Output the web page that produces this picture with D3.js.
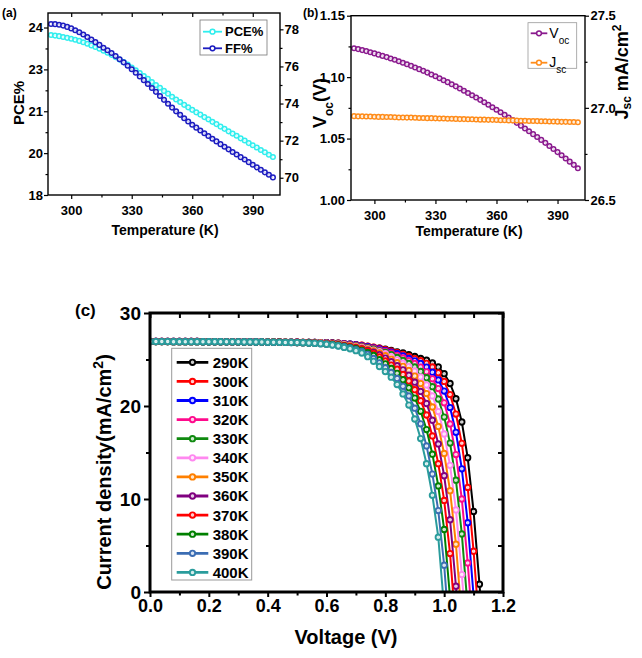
<!DOCTYPE html>
<html><head><meta charset="utf-8">
<script src="https://cdn.jsdelivr.net/npm/d3@7"></script>
<style>
body{margin:0;background:#fff;}
svg text{font-family:"Liberation Sans",Arial,sans-serif;}
</style></head><body>
<svg id="chart" width="642" height="658"></svg>
<script>
// ---------- DATA ----------
const temps = [290,292,294,296,298,300,302,304,306,308,310,312,314,316,318,320,322,324,326,328,330,332,334,336,338,340,342,344,346,348,350,352,354,356,358,360,362,364,366,368,370,372,374,376,378,380,382,384,386,388,390,392,394,396,398,400];
const pce = [23.73,23.71,23.69,23.66,23.63,23.60,23.56,23.52,23.47,23.42,23.36,23.30,23.24,23.17,23.10,23.02,22.94,22.85,22.76,22.67,22.57,22.47,22.37,22.26,22.16,22.05,21.94,21.84,21.73,21.63,21.52,21.42,21.33,21.23,21.14,21.05,20.96,20.88,20.79,20.71,20.62,20.54,20.45,20.37,20.28,20.20,20.12,20.03,19.95,19.86,19.78,19.70,19.61,19.53,19.44,19.36];
const ff = [78.29,78.28,78.25,78.20,78.13,78.05,77.95,77.84,77.72,77.59,77.45,77.31,77.16,77.01,76.87,76.72,76.56,76.39,76.22,76.04,75.85,75.66,75.46,75.26,75.05,74.84,74.63,74.41,74.20,73.99,73.78,73.58,73.39,73.21,73.03,72.86,72.70,72.55,72.40,72.25,72.10,71.96,71.81,71.67,71.53,71.39,71.25,71.11,70.98,70.84,70.70,70.56,70.43,70.29,70.16,70.02];
const voc = [1.1235,1.1228,1.1220,1.1212,1.1203,1.1193,1.1183,1.1173,1.1163,1.1152,1.1141,1.1129,1.1117,1.1105,1.1092,1.1079,1.1065,1.1051,1.1037,1.1022,1.1007,1.0991,1.0975,1.0959,1.0942,1.0925,1.0907,1.0889,1.0871,1.0853,1.0834,1.0815,1.0795,1.0775,1.0755,1.0735,1.0714,1.0693,1.0672,1.0650,1.0628,1.0605,1.0582,1.0559,1.0536,1.0513,1.0489,1.0465,1.0440,1.0415,1.0390,1.0364,1.0338,1.0312,1.0286,1.0259];
const jsc = [26.955,26.954,26.954,26.953,26.953,26.952,26.951,26.951,26.950,26.950,26.949,26.948,26.948,26.947,26.947,26.946,26.945,26.945,26.944,26.944,26.943,26.942,26.942,26.941,26.941,26.940,26.939,26.939,26.938,26.938,26.937,26.936,26.936,26.935,26.935,26.934,26.933,26.933,26.932,26.932,26.931,26.930,26.930,26.929,26.929,26.928,26.927,26.927,26.926,26.926,26.925,26.924,26.924,26.923,26.923,26.922];

const tempTicks = [300,330,360,390];
const tempMinorTicks = [315,345,375];
const pceTicks = [18,19.5,21,22.5,24];
const pceTickLabels = ["18","20","21","23","24"];
const pceMinorTicks = [18.75,20.25,21.75,23.25];
const ffTicks = [70,72,74,76,78];
const ffMinorTicks = [71,73,75,77];
const vocTicks = [1.00,1.05,1.10,1.15];
const vocMinorTicks = [1.025,1.075,1.125];
const jscTicks = [26.5,27.0,27.5];
const jscMinorTicks = [26.75,27.25];

const voltage = [0,0.02,0.04,0.06,0.08,0.10,0.12,0.14,0.16,0.18,0.20,0.22,0.24,0.26,0.28,0.30,0.32,0.34,0.36,0.38,0.40,0.42,0.44,0.46,0.48,0.50,0.52,0.54,0.56,0.58,0.60,0.62,0.64,0.66,0.68,0.70,0.72,0.74,0.76,0.78,0.80,0.82,0.84,0.86,0.88,0.90,0.92,0.94,0.96,0.98,1.00,1.02,1.04,1.06,1.08,1.10,1.12,1.14];
const j290 = [26.95,26.95,26.95,26.95,26.94,26.94,26.94,26.94,26.94,26.93,26.93,26.93,26.93,26.93,26.92,26.92,26.92,26.91,26.91,26.90,26.89,26.88,26.88,26.87,26.87,26.86,26.85,26.84,26.83,26.82,26.80,26.78,26.75,26.70,26.65,26.60,26.51,26.41,26.31,26.21,26.11,25.97,25.82,25.71,25.52,25.32,25.12,24.92,24.63,24.20,23.48,22.42,20.78,18.28,14.44,8.66,0.84,-7.6];
const j300 = [26.95,26.95,26.95,26.95,26.94,26.94,26.94,26.94,26.94,26.93,26.93,26.93,26.93,26.93,26.92,26.92,26.92,26.91,26.91,26.90,26.89,26.88,26.88,26.87,26.86,26.86,26.85,26.84,26.83,26.82,26.80,26.78,26.75,26.71,26.66,26.60,26.53,26.43,26.33,26.21,26.05,25.90,25.74,25.56,25.33,25.10,24.87,24.59,24.20,23.57,22.64,21.23,19.13,15.99,11.25,4.38,-4.0];
const j310 = [26.95,26.95,26.95,26.95,26.94,26.94,26.94,26.94,26.94,26.93,26.93,26.93,26.93,26.93,26.92,26.92,26.92,26.91,26.91,26.90,26.89,26.88,26.88,26.87,26.87,26.86,26.85,26.84,26.83,26.82,26.80,26.77,26.73,26.69,26.64,26.57,26.47,26.37,26.26,26.14,25.96,25.79,25.63,25.38,25.12,24.86,24.58,24.19,23.64,22.80,21.61,19.83,17.17,13.24,7.45,-0.4];
const j320 = [26.95,26.95,26.95,26.95,26.94,26.94,26.94,26.94,26.94,26.93,26.93,26.93,26.93,26.93,26.92,26.92,26.92,26.91,26.91,26.90,26.89,26.89,26.88,26.87,26.86,26.86,26.85,26.84,26.82,26.81,26.78,26.74,26.70,26.66,26.60,26.52,26.42,26.31,26.20,26.04,25.87,25.69,25.45,25.16,24.87,24.57,24.19,23.68,22.92,21.87,20.34,18.07,14.78,10.00,3.13,-5.0];
const j330 = [26.95,26.95,26.95,26.95,26.94,26.94,26.94,26.94,26.94,26.93,26.93,26.93,26.93,26.93,26.92,26.92,26.92,26.91,26.91,26.90,26.89,26.88,26.87,26.86,26.86,26.85,26.84,26.83,26.82,26.80,26.76,26.72,26.68,26.63,26.55,26.46,26.36,26.25,26.11,25.93,25.75,25.53,25.22,24.90,24.58,24.20,23.72,23.04,22.08,20.75,18.81,16.01,12.02,6.25,-1.7];
const j340 = [26.95,26.95,26.95,26.95,26.94,26.94,26.94,26.94,26.94,26.93,26.93,26.93,26.93,26.93,26.92,26.92,26.92,26.91,26.91,26.90,26.88,26.88,26.87,26.86,26.86,26.85,26.84,26.82,26.80,26.78,26.74,26.70,26.65,26.59,26.50,26.40,26.30,26.17,26.01,25.84,25.62,25.31,24.97,24.61,24.24,23.77,23.13,22.26,21.08,19.40,16.99,13.62,8.83,1.87,-6.2];
const j350 = [26.93,26.93,26.93,26.93,26.92,26.92,26.92,26.92,26.92,26.91,26.91,26.91,26.91,26.90,26.90,26.90,26.89,26.89,26.88,26.88,26.88,26.87,26.86,26.86,26.85,26.84,26.83,26.81,26.79,26.76,26.72,26.67,26.62,26.54,26.45,26.35,26.23,26.09,25.92,25.70,25.41,25.04,24.66,24.27,23.82,23.22,22.41,21.34,19.89,17.80,14.89,10.89,5.14,-2.9];
const j360 = [26.93,26.93,26.93,26.93,26.92,26.92,26.92,26.92,26.92,26.91,26.91,26.91,26.91,26.90,26.90,26.90,26.89,26.89,26.88,26.88,26.87,26.87,26.86,26.85,26.84,26.83,26.82,26.80,26.77,26.73,26.69,26.64,26.58,26.49,26.39,26.28,26.15,25.98,25.80,25.53,25.15,24.77,24.34,23.89,23.31,22.56,21.57,20.27,18.47,15.92,12.50,7.77,0.63,-7.5];
const j370 = [26.93,26.93,26.93,26.93,26.92,26.92,26.92,26.92,26.92,26.91,26.91,26.91,26.91,26.90,26.90,26.90,26.89,26.89,26.88,26.88,26.87,26.86,26.86,26.85,26.84,26.83,26.81,26.79,26.77,26.74,26.70,26.64,26.58,26.49,26.38,26.25,26.10,25.90,25.64,25.27,24.85,24.40,23.95,23.40,22.69,21.76,20.57,19.03,16.78,13.80,9.85,4.13,-4.1];
const j380 = [26.93,26.93,26.93,26.93,26.92,26.92,26.92,26.92,26.92,26.91,26.91,26.91,26.91,26.90,26.90,26.90,26.89,26.89,26.88,26.88,26.87,26.86,26.86,26.85,26.84,26.83,26.81,26.78,26.75,26.71,26.66,26.62,26.53,26.43,26.31,26.17,25.98,25.73,25.43,24.98,24.53,24.04,23.51,22.82,21.95,20.85,19.43,17.47,14.82,11.41,6.72,-0.6];
const j390 = [26.93,26.93,26.93,26.93,26.92,26.92,26.92,26.92,26.92,26.91,26.91,26.91,26.91,26.90,26.90,26.90,26.89,26.89,26.88,26.88,26.86,26.85,26.85,26.84,26.83,26.82,26.80,26.77,26.74,26.70,26.66,26.58,26.48,26.37,26.24,26.06,25.86,25.56,25.12,24.64,24.12,23.60,22.96,22.12,21.08,19.77,18.08,15.71,12.68,8.76,2.88,-5.4];
const j400 = [26.93,26.93,26.93,26.93,26.92,26.92,26.92,26.92,26.92,26.91,26.91,26.91,26.91,26.90,26.90,26.90,26.89,26.89,26.88,26.88,26.86,26.86,26.85,26.84,26.83,26.82,26.80,26.77,26.74,26.70,26.65,26.55,26.45,26.30,26.15,25.95,25.70,25.30,24.80,24.25,23.70,23.10,22.30,21.30,20.10,18.60,16.50,13.80,10.40,5.90,-1.8];
const jvLabels = ["290K","300K","310K","320K","330K","340K","350K","360K","370K","380K","390K","400K"];
const jvSeries = [j290,j300,j310,j320,j330,j340,j350,j360,j370,j380,j390,j400];
const voltageTicks = [0,0.2,0.4,0.6,0.8,1.0,1.2];
const voltageMinorTicks = [0.1,0.3,0.5,0.7,0.9,1.1];
const currentTicks = [0,10,20,30];
const currentMinorTicks = [5,15,25];

// ---------- STYLE ----------
const jvColors = ["#000000","#ff0000","#0000ff","#ff0a8c","#0f8a0f","#ff88f0","#ff8000","#800080","#ff0000","#008000","#3b6db3","#2a9c9c"];
const FONT = '"Liberation Sans", Arial, sans-serif';
const svg = d3.select("#chart");

function styleAxis(g, fs, tw) {
  g.select(".domain").remove();
  g.selectAll(".tick line").attr("stroke", "#000").attr("stroke-width", tw);
  g.selectAll(".tick text").attr("fill", "#000").style("font-family", FONT)
    .style("font-size", fs + "px").style("font-weight", "bold");
}
function addAxis(gen, tx, ty, fs, tw) {
  const g = svg.append("g").attr("transform", `translate(${tx},${ty})`).call(gen);
  styleAxis(g, fs, tw);
  return g;
}
function txt(x, y, s, fs, opts = {}) {
  const t = svg.append("text").attr("x", x).attr("y", y).text(s)
    .style("font-size", fs + "px").style("font-weight", opts.weight || "bold")
    .attr("text-anchor", opts.anchor || "start").attr("fill", "#000");
  if (opts.rotate) t.attr("transform", `rotate(${opts.rotate},${x},${y})`);
  return t;
}
function series(g, xs, ys, x, y, color, r, lw, mw) {
  const pts = ys.map((v, i) => [xs[i], v]);
  g.append("path").attr("d", d3.line().x(d => x(d[0])).y(d => y(d[1]))(pts))
    .attr("fill", "none").attr("stroke", color).attr("stroke-width", lw);
  g.selectAll(null).data(pts).join("circle")
    .attr("cx", d => x(d[0])).attr("cy", d => y(d[1])).attr("r", r)
    .attr("fill", "#fff").attr("fill-opacity", 0.8).attr("stroke", color).attr("stroke-width", mw);
}

// ---------- PANEL (a) ----------
const xA = d3.scaleLinear().domain([288.5, 403.5]).range([48, 280]);
const yPce = d3.scaleLinear().domain([18, 24.52]).range([195, 13]);
const yFF = d3.scaleLinear().domain([69.07, 78.88]).range([195, 13]);
const gA = svg.append("g");
series(gA, temps, pce, xA, yPce, "#30eeee", 2.3, 1.5, 1.5);
series(gA, temps, ff, xA, yFF, "#1c1cc0", 2.3, 1.5, 1.5);
addAxis(d3.axisBottom(xA).tickValues(tempTicks).tickSize(4).tickPadding(7).tickFormat(d3.format("d")), 0, 195, 13, 1.2);
addAxis(d3.axisBottom(xA).tickValues(tempMinorTicks).tickSize(2.5).tickFormat(""), 0, 195, 13, 1.2);
addAxis(d3.axisTop(xA).tickValues(tempTicks).tickSize(-4).tickFormat(""), 0, 13, 13, 1.2);
addAxis(d3.axisTop(xA).tickValues(tempMinorTicks).tickSize(-2.5).tickFormat(""), 0, 13, 13, 1.2);
addAxis(d3.axisLeft(yPce).tickValues(pceTicks).tickSize(4).tickPadding(1).tickFormat((d, i) => pceTickLabels[i]), 48, 0, 13, 1.2);
addAxis(d3.axisLeft(yPce).tickValues(pceMinorTicks).tickSize(2.5).tickFormat(""), 48, 0, 13, 1.2);
addAxis(d3.axisRight(yFF).tickValues(ffTicks).tickSize(3.5).tickPadding(1).tickFormat(d3.format("d")), 280, 0, 13, 1.2);
addAxis(d3.axisRight(yFF).tickValues(ffMinorTicks).tickSize(2.5).tickFormat(""), 280, 0, 13, 1.2);
svg.append("rect").attr("x", 48).attr("y", 13).attr("width", 232).attr("height", 182)
  .attr("fill", "none").attr("stroke", "#000").attr("stroke-width", 1.4);
// legend (a)
svg.append("rect").attr("x", 200).attr("y", 20).attr("width", 67).attr("height", 35)
  .attr("fill", "#fff").attr("stroke", "#777").attr("stroke-width", 0.8);
[["PCE%", "#30eeee", 31.7], ["FF%", "#1c1cc0", 48.3]].forEach(([lab, c, yy]) => {
  svg.append("line").attr("x1", 203).attr("x2", 222).attr("y1", yy).attr("y2", yy).attr("stroke", c).attr("stroke-width", 1.8);
  svg.append("circle").attr("cx", 212.5).attr("cy", yy).attr("r", 2.4).attr("fill", "#fff").attr("stroke", c).attr("stroke-width", 1.5);
  txt(225, yy + 4.5, lab, 13);
});
txt(2, 17, "(a)", 12);
txt(24, 103, "PCE%", 15, { anchor: "middle", rotate: -90 });
txt(165, 235, "Temperature (K)", 14, { anchor: "middle" });

// ---------- PANEL (b) ----------
const xB = d3.scaleLinear().domain([288.5, 403.5]).range([351, 585]);
const yVoc = d3.scaleLinear().domain([1.0, 1.15]).range([200, 15.7]);
const yJsc = d3.scaleLinear().domain([26.5, 27.5]).range([200, 15.7]);
const gB = svg.append("g");
series(gB, temps, voc, xB, yVoc, "#8a1a8e", 2.3, 1.5, 1.5);
series(gB, temps, jsc, xB, yJsc, "#ff8c1a", 2.3, 1.5, 1.5);
addAxis(d3.axisBottom(xB).tickValues(tempTicks).tickSize(4).tickPadding(7).tickFormat(d3.format("d")), 0, 200, 13, 1.2);
addAxis(d3.axisBottom(xB).tickValues(tempMinorTicks).tickSize(2.5).tickFormat(""), 0, 200, 13, 1.2);
addAxis(d3.axisLeft(yVoc).tickValues(vocTicks).tickSize(4).tickPadding(2).tickFormat(d3.format(".2f")), 351, 0, 13, 1.2);
addAxis(d3.axisLeft(yVoc).tickValues(vocMinorTicks).tickSize(2.5).tickFormat(""), 351, 0, 13, 1.2);
addAxis(d3.axisRight(yJsc).tickValues(jscTicks).tickSize(4).tickPadding(1.5).tickFormat(d3.format(".1f")), 585, 0, 13, 1.2);
addAxis(d3.axisRight(yJsc).tickValues(jscMinorTicks).tickSize(2.5).tickFormat(""), 585, 0, 13, 1.2);
svg.append("rect").attr("x", 351).attr("y", 15.7).attr("width", 234).attr("height", 184.3)
  .attr("fill", "none").attr("stroke", "#000").attr("stroke-width", 1.4);
// legend (b)
svg.append("rect").attr("x", 528).attr("y", 22.7).attr("width", 48.7).attr("height", 45.6)
  .attr("fill", "#fff").attr("stroke", "#999").attr("stroke-width", 0.8);
[["V", "oc", "#8a1a8e", 33.3], ["J", "sc", "#ff8c1a", 62.7]].forEach(([a, b, c, yy]) => {
  svg.append("line").attr("x1", 530.7).attr("x2", 547.3).attr("y1", yy).attr("y2", yy).attr("stroke", c).attr("stroke-width", 1.8);
  svg.append("circle").attr("cx", 539).attr("cy", yy).attr("r", 2.4).attr("fill", "#fff").attr("stroke", c).attr("stroke-width", 1.5);
  const t = txt(549.3, yy + 4.5, "", 14, { weight: "normal" });
  t.append("tspan").text(a);
  t.append("tspan").attr("baseline-shift", "sub").style("font-size", "10px").text(b);
});
txt(303, 17, "(b)", 12);
{
  const t = txt(326, 103, "", 18, { anchor: "middle", rotate: -90 });
  t.append("tspan").text("V");
  t.append("tspan").attr("baseline-shift", "sub").style("font-size", "12px").text("oc");
  t.append("tspan").text("(V)");
}
{
  const t = txt(628, 72, "", 18, { anchor: "middle", rotate: -90 });
  t.append("tspan").text("J");
  t.append("tspan").attr("baseline-shift", "-3").style("font-size", "12px").text("sc");
  t.append("tspan").text(" mA/cm");
  t.append("tspan").attr("baseline-shift", "super").style("font-size", "12px").text("2");
}
txt(469, 236, "Temperature (K)", 14, { anchor: "middle" });

// ---------- PANEL (c) ----------
const xC = d3.scaleLinear().domain([0, 1.2]).range([150, 503]);
const yC = d3.scaleLinear().domain([0, 30]).range([592, 313]);
svg.append("clipPath").attr("id", "clipC").append("rect")
  .attr("x", 150).attr("y", 313).attr("width", 353).attr("height", 279);
const gC = svg.append("g").attr("clip-path", "url(#clipC)");
jvSeries.forEach((s, k) => series(gC, voltage, s, xC, yC, jvColors[k], 2.7, 2, 1.9));
addAxis(d3.axisBottom(xC).tickValues(voltageTicks).tickSize(5).tickPadding(2).tickFormat(d3.format(".1f")), 0, 592, 18, 2);
addAxis(d3.axisBottom(xC).tickValues(voltageMinorTicks).tickSize(3.5).tickFormat(""), 0, 592, 18, 2);
addAxis(d3.axisTop(xC).tickValues(voltageTicks.concat(voltageMinorTicks)).tickSize(-5).tickFormat(""), 0, 313, 18, 2);
addAxis(d3.axisLeft(yC).tickValues(currentTicks).tickSize(6).tickPadding(3).tickFormat(d3.format("d")), 150, 0, 19, 2);
addAxis(d3.axisLeft(yC).tickValues(currentMinorTicks).tickSize(4).tickFormat(""), 150, 0, 19, 2);
addAxis(d3.axisRight(yC).tickValues(currentTicks.concat(currentMinorTicks)).tickSize(-5).tickFormat(""), 503, 0, 19, 2);
svg.append("rect").attr("x", 150).attr("y", 313).attr("width", 353).attr("height", 279)
  .attr("fill", "none").attr("stroke", "#000").attr("stroke-width", 3);
// legend (c)
svg.append("rect").attr("x", 171.7).attr("y", 348.3).attr("width", 80).attr("height", 231.7)
  .attr("fill", "#fff").attr("stroke", "#999").attr("stroke-width", 1);
jvLabels.forEach((lab, k) => {
  const yy = 362.3 + k * 19.1;
  svg.append("line").attr("x1", 176.7).attr("x2", 208.3).attr("y1", yy).attr("y2", yy).attr("stroke", jvColors[k]).attr("stroke-width", 2.8);
  svg.append("circle").attr("cx", 192.5).attr("cy", yy).attr("r", 2.7).attr("fill", "#fff").attr("fill-opacity", 0.8).attr("stroke", jvColors[k]).attr("stroke-width", 1.9);
  txt(212.7, yy + 5.4, lab, 15);
});
txt(75, 316, "(c)", 17);
{
  const t = txt(111, 472, "", 20, { anchor: "middle", rotate: -90 });
  t.append("tspan").text("Current density(mA/cm");
  t.append("tspan").attr("baseline-shift", "super").style("font-size", "14px").text("2");
  t.append("tspan").text(")");
}
txt(346, 644, "Voltage (V)", 20, { anchor: "middle" });
</script>
</body></html>
